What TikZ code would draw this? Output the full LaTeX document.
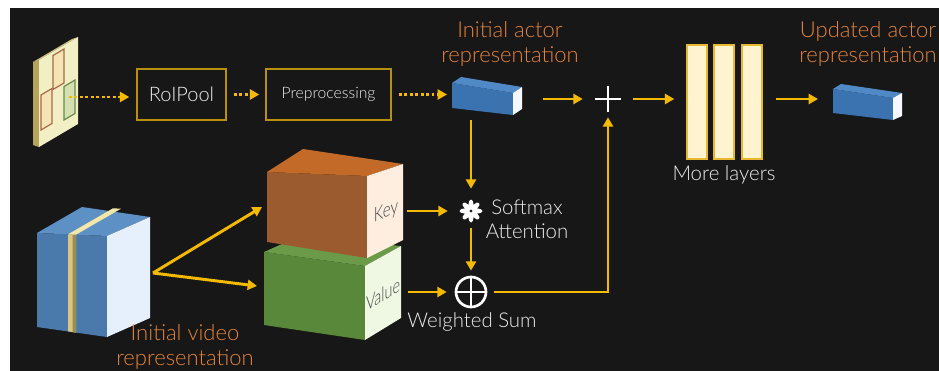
\documentclass[tikz,border=0pt]{standalone}
\usepackage{fontspec}
\setmainfont{Lato}[UprightFont={* Light}]
\usetikzlibrary{arrows.meta}
\definecolor{bgc}{HTML}{171717}
\definecolor{arrowc}{HTML}{F5BA00}
\definecolor{boxc}{HTML}{B8900C}
\definecolor{orangec}{HTML}{E4833C}
\definecolor{whitec}{HTML}{EEEEEE}
\definecolor{bluefront}{HTML}{3B73B1}
\definecolor{bluetop}{HTML}{4F8AC6}
\definecolor{blueend}{HTML}{F5F9FF}
\definecolor{vidfront}{HTML}{4A7AAB}
\definecolor{vidtop}{HTML}{5D90C4}
\definecolor{vidright}{HTML}{E6EFFC}
\definecolor{slabfront}{HTML}{DCC67C}
\definecolor{slabtop}{HTML}{F2E6A8}
\definecolor{keyfront}{HTML}{9B5B2E}
\definecolor{keytop}{HTML}{C46A28}
\definecolor{keyright}{HTML}{FDEEE0}
\definecolor{valfront}{HTML}{5A883A}
\definecolor{valtop}{HTML}{6B9A48}
\definecolor{valright}{HTML}{EEF8E2}
\definecolor{framefront}{HTML}{F3EFC5}
\definecolor{frameside}{HTML}{B5A55A}
\definecolor{frametop}{HTML}{CFC080}
\definecolor{framebrown}{HTML}{A86A4A}
\definecolor{framegreen}{HTML}{6A8A50}
\definecolor{framegreenfill}{HTML}{D4E0B0}
\definecolor{barfill}{HTML}{FFF3D0}
\definecolor{barline}{HTML}{E8B830}
\begin{document}
\begin{tikzpicture}[x=0.75pt,y=-0.75pt,
  arr/.style={draw=arrowc, line width=2.2pt, -{Triangle[length=7pt,width=7.5pt]}},
  dotarr/.style={arr, dash pattern=on 2.2pt off 1.9pt},
  opbox/.style={draw=boxc, line width=1.1pt, minimum height=38.25pt, inner sep=0pt, text=whitec},
  orangelbl/.style={text=orangec, align=center, font=\fontsize{16.5}{18.8}\selectfont},
  whitelbl/.style={text=whitec, align=center, font=\fontsize{15.3}{18}\selectfont},
  bar/.style={draw=barline, fill=barfill, line width=1.1pt, minimum width=15pt, minimum height=85.5pt, inner sep=0pt},
  facetext/.style={text=black!72, font=\fontsize{15}{17}\selectfont, transform shape}
]
\useasboundingbox (0,0) rectangle (939,371);
\fill[white] (0,0) rectangle (939,371);
\fill[bgc] (10,8) rectangle (939,371);

% ---- input frame ----
\fill[frameside] (39,60) -- (33,62) -- (33,145) -- (39,147) -- cycle;
\fill[frametop] (39,60) -- (78,37) -- (72,39) -- (33,62) -- cycle;
\fill[framefront] (39,60) -- (78,37) -- (78,124) -- (39,147) -- cycle;
\draw[framebrown, line width=0.9pt, fill=framefront!90!orange!95!white] (53,55.5) -- (64,49) -- (64,83) -- (53,89.5) -- cycle;
\draw[framebrown, line width=0.9pt, fill=framefront!90!orange!95!white] (41,95) -- (52,88.5) -- (52,123.5) -- (41,130) -- cycle;
\draw[framegreen, line width=0.9pt, fill=framegreenfill] (64,86.5) -- (75,80) -- (75,113.5) -- (64,120) -- cycle;
\coordinate (frameE) at (69,97);

% ---- operation boxes ----
\node[opbox, minimum width=66.75pt, font=\fontsize{15}{16}\selectfont] (roi) at (181.5,94.5) {RoIPool};
\node[opbox, minimum width=93.75pt, font=\fontsize{11.8}{13}\selectfont] (prep) at (328.5,94.5) {Preprocessing};

% ---- initial actor cube ----
\fill[bluefront] (452,83) -- (513,93) -- (513,115) -- (452,108) -- cycle;
\fill[bluetop] (452,83) -- (461,77) -- (522,87) -- (513,93) -- cycle;
\fill[blueend] (513,93) -- (522,87) -- (522,109) -- (513,115) -- cycle;
\coordinate (actorW) at (452,95);
\coordinate (actorE) at (522,99);
\coordinate (actorS) at (471,112);
\node[orangelbl] (actorlbl) at (510,44) {Initial actor\\representation};

% ---- plus ----
\node[minimum size=19.5pt, inner sep=0pt] (plus) at (608,99) {};
\draw[white, line width=2pt] (plus.north) -- (plus.south) (plus.west) -- (plus.east);

% ---- more layers ----
\node[bar] (bar1) at (697,102) {};
\node[bar] (bar2) at (724,102) {};
\node[bar] (bar3) at (752,102) {};
\node[whitelbl] (morelbl) at (724,175) {More layers};

% ---- updated actor cube ----
\fill[bluefront] (833,89) -- (893,98) -- (893,120) -- (833,113) -- cycle;
\fill[bluetop] (833,89) -- (841,84) -- (902,93) -- (893,98) -- cycle;
\fill[blueend] (893,98) -- (902,93) -- (902,116) -- (893,120) -- cycle;
\coordinate (updW) at (833,99);
\node[orangelbl] (updlbl) at (868,44) {Updated actor\\representation};

% ---- video cube ----
\fill[vidfront] (37,233) -- (107,236) -- (107,337) -- (37,327) -- cycle;
\fill[vidtop] (37,233) -- (82,207) -- (150,217) -- (107,236) -- cycle;
\fill[vidright] (107,236) -- (150,217) -- (150,318) -- (107,337) -- cycle;
\fill[slabfront] (68,234.3) -- (76,234.7) -- (76,332.6) -- (68,331.4) -- cycle;
\fill[slabfront!70!black] (72.5,234.5) -- (76,234.7) -- (76,332.6) -- (72.5,332) -- cycle;
\fill[slabtop] (68,234.3) -- (113,208.3) -- (121,208.7) -- (76,234.7) -- cycle;
\coordinate (vidE) at (153,273);
\node[orangelbl] (vidlbl) at (185,347) {Initial video\\representation};

% ---- value box ----
\fill[valfront] (264,252) -- (365,266) -- (365,340) -- (264,325) -- cycle;
\fill[valtop] (264,252) -- (300,236) -- (401,246) -- (365,266) -- cycle;
\fill[valright] (365,266) -- (401,246) -- (401,318) -- (365,340) -- cycle;
\coordinate (valW) at (257,286);
\coordinate (valE) at (401,292);
\node[facetext, yslant=0.6, xscale=0.72] (valtxt) at (383,294) {Value};

% ---- key box ----
\fill[keyfront] (267,172) -- (367,176) -- (367,258) -- (267,242) -- cycle;
\fill[keytop] (267,172) -- (303,149) -- (403,164) -- (367,176) -- cycle;
\fill[keyright] (367,176) -- (403,164) -- (403,240) -- (367,258) -- cycle;
\coordinate (keyW) at (262,207);
\coordinate (keyE) at (403,211);
\node[facetext, yslant=0.4, xscale=0.75] (keytxt) at (386,212) {Key};

% ---- softmax ----
\node[circle, minimum size=15pt, inner sep=0pt] (soft) at (471,211) {};
\foreach \a in {0,45,...,315}
  \fill[white, rotate around={\a:(471,211)}] (477.2,211) ellipse (5.3 and 2.6);
\fill[bgc] (471,211) circle (1.2);
\node[whitelbl] (softlbl) at (527,219) {Softmax\\Attention};

% ---- weighted sum ----
\node[circle, draw=white, line width=2pt, minimum size=22.5pt, inner sep=0pt] (wsum) at (471,292) {};
\draw[white, line width=2pt] (wsum.north) -- (wsum.south) (wsum.west) -- (wsum.east);
\node[whitelbl] (wsumlbl) at (472,322) {Weighted Sum};

% ---- connectors ----
\draw[dotarr, shorten >=5.25pt] (frameE) -- (frameE -| roi.west);
\draw[dotarr, shorten <=5.25pt, shorten >=4.5pt] (roi) -- (prep);
\draw[dotarr, shorten <=5.25pt, shorten >=3.75pt] (prep) -- (prep -| actorW);
\draw[arr, shorten <=15.75pt, shorten >=9pt] (actorE) -- (actorE -| plus.west);
\draw[arr, shorten <=9pt, shorten >=9pt] (plus.east) -- (plus.east -| bar1.west);
\draw[arr, shorten <=9.75pt, shorten >=11.25pt] (plus.east -| bar3.east) -- (plus.east -| updW);
\draw[arr, shorten <=6pt, shorten >=9pt] (actorS) -- (soft);
\draw[arr, shorten <=3pt, shorten >=9.75pt] (keyE) -- (keyE -| soft.west);
\draw[arr, shorten <=5.25pt, shorten >=3.75pt] (soft) -- (wsum);
\draw[arr, shorten <=5.25pt, shorten >=6pt] (valE) -- (wsum);
\draw[arr, shorten <=5.25pt, shorten >=3.75pt] (wsum.east) -- (wsum.east -| plus.south) -- (plus.south);
\draw[arr] (vidE) -- (keyW);
\draw[arr] (vidE) -- (valW);
\end{tikzpicture}
\end{document}
